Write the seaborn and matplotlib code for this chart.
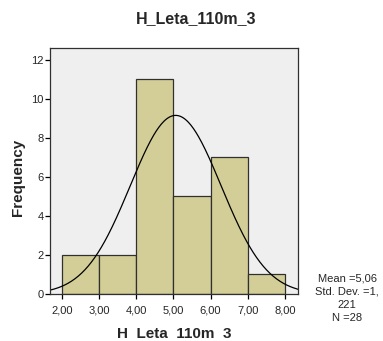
import numpy as np
import pandas as pd
import matplotlib
matplotlib.use("Agg")
import matplotlib.pyplot as plt
import seaborn as sns

# Data
bin_edges = [2.0, 3.0, 4.0, 5.0, 6.0, 7.0, 8.0]
bin_centers = [2.5, 3.5, 4.5, 5.5, 6.5, 7.5]
counts = [2, 2, 11, 5, 7, 1]
mean_val = 5.06
std_val = 1.221
n_val = 28
x_ticks = [2, 3, 4, 5, 6, 7, 8]
x_tick_labels = ["2,00", "3,00", "4,00", "5,00", "6,00", "7,00", "8,00"]
y_ticks = [0, 2, 4, 6, 8, 10, 12]

sns.set_style("white")
plt.rcParams['font.family'] = ['Liberation Sans', 'DejaVu Sans']

W, H = 383, 341
fig = plt.figure(figsize=(W / 100, H / 100), dpi=100)
ax = fig.add_axes([50 / W, 47 / H, 248 / W, 246 / H])
ax.set_facecolor("#EFEFEF")

df = pd.DataFrame({"x": bin_centers, "w": counts})
sns.histplot(data=df, x="x", weights="w", bins=bin_edges, ax=ax,
             color="#D3CE98", edgecolor="#303030", linewidth=0.9, alpha=1.0)

xs = np.linspace(1.68, 8.35, 300)
ys = n_val * 1.0 / (std_val * np.sqrt(2 * np.pi)) * np.exp(-0.5 * ((xs - mean_val) / std_val) ** 2)
sns.lineplot(x=xs, y=ys, ax=ax, color="black", linewidth=0.9)

ax.set_xlim(1.68, 8.35)
ax.set_ylim(0, 12.6)
ax.set_xticks(x_ticks)
ax.set_xticklabels(x_tick_labels)
ax.set_yticks(y_ticks)
ax.tick_params(axis="both", direction="out", length=3.5, width=0.9, color="black",
               labelsize=8, bottom=True, left=True)
ax.tick_params(axis="x", pad=5)
ax.tick_params(axis="y", pad=1)
for s in ax.spines.values():
    s.set_color("#303030")
    s.set_linewidth(0.9)

ax.set_xlabel("")
ax.set_ylabel("")
fig.text(174 / W, 1 - 334 / H, "H  Leta  110m  3", ha="center", va="center",
         fontsize=11, fontweight="bold")
fig.text(18.5 / W, 1 - 177 / H, "Frequency", ha="center", va="center",
         rotation=90, fontsize=11, fontweight="bold")
fig.text(196 / W, 1 - 19 / H, "H_Leta_110m_3", ha="center", va="center",
         fontsize=11.5, fontweight="bold")
fig.text(347 / W, 1 - 298 / H, "Mean =5,06\nStd. Dev. =1,\n221\nN =28",
         ha="center", va="center", fontsize=8, linespacing=1.4)

fig.savefig("out.png", dpi=100)
